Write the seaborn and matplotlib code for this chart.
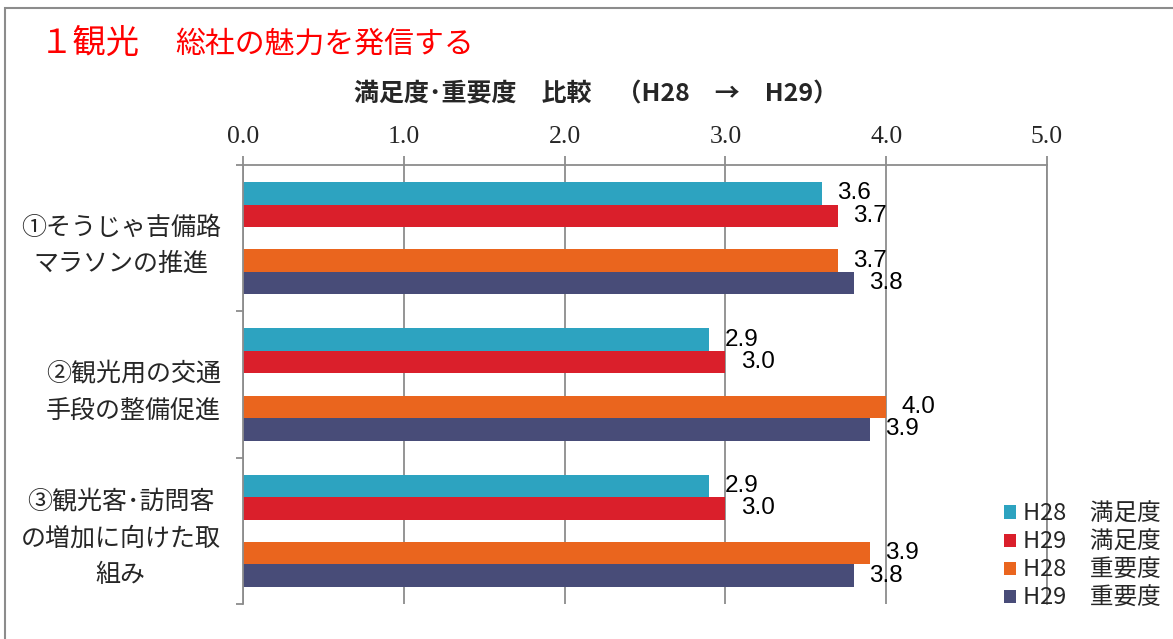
import matplotlib
matplotlib.use("Agg")
import matplotlib.pyplot as plt
from matplotlib.patches import Patch, Rectangle
import seaborn as sns
import pandas as pd

# ---- data ----
categories = ["①そうじゃ吉備路\nマラソンの推進",
              "②観光用の交通\n手段の整備促進",
              "③観光客･訪問客\nの増加に向けた取\n組み"]
series = ["H28　満足度", "H29　満足度", "H28　重要度", "H29　重要度"]
h28_satisfaction = [3.6, 2.9, 2.9]
h29_satisfaction = [3.7, 3.0, 3.0]
h28_importance = [3.7, 4.0, 3.9]
h29_importance = [3.8, 3.9, 3.8]
x_ticks = [0.0, 1.0, 2.0, 3.0, 4.0, 5.0]
colors = ["#2DA3C0", "#DA1F2B", "#EA651E", "#484C78"]

values = [h28_satisfaction, h29_satisfaction, h28_importance, h29_importance]

# a blank level between the satisfaction pair and the importance pair
spacer = " "
hue_order = series[:2] + [spacer] + series[2:]
rows = []
for name, vals in zip(series, values):
    for cat, v in zip(categories, vals):
        rows.append({"項目": cat, "系列": name, "値": v})
for cat in categories:
    rows.append({"項目": cat, "系列": spacer, "値": 0.0})
df = pd.DataFrame(rows)
palette = dict(zip(series, colors))
palette[spacer] = "#FFFFFF"

sns.set_theme(style="white")
plt.rcParams["font.family"] = ["Noto Sans CJK JP", "DejaVu Sans"]

W, H = 1173, 639
fig = plt.figure(figsize=(W / 100, H / 100), dpi=100)
ax = fig.add_axes([243 / W, 1 - 604 / H, (1047 - 243) / W, (604 - 165) / H])

sns.barplot(data=df, y="項目", x="値", hue="系列", order=categories,
            hue_order=hue_order, palette=palette, orient="h",
            width=0.766, saturation=1, legend=False, ax=ax,
            edgecolor="none", errorbar=None)

gray = "#8C8C8C"
ax.set_xlim(0, 5)
ax.set_xticks(x_ticks)
ax.set_xticklabels([f"{t:.1f}" for t in x_ticks],
                   family="Liberation Serif", fontsize=18.5)
ax.xaxis.tick_top()
ax.tick_params(axis="x", which="major", direction="out", length=6.5,
               width=1.3, color=gray, pad=6, top=True, bottom=False)
ax.grid(axis="x", color=gray, linewidth=1.3)
ax.set_axisbelow(True)
ax.set_xlabel("")
ax.set_ylabel("")

# category labels on the left, tick marks between categories
ax.set_yticks(range(len(categories)))
ax.set_yticklabels(categories, fontsize=18, linespacing=1.5)
for lbl in ax.get_yticklabels():
    lbl.set_multialignment("center")
ax.tick_params(axis="y", which="major", length=0, pad=16)
ax.set_yticks([-0.5, 0.5, 1.5, 2.5], minor=True)
ax.tick_params(axis="y", which="minor", direction="out", length=5,
               width=1.3, color=gray, left=True)
ax.set_ylim(2.5, -0.5)

for side in ["top", "left", "right"]:
    ax.spines[side].set_visible(True)
    ax.spines[side].set_color(gray)
    ax.spines[side].set_linewidth(1.3)
ax.spines["bottom"].set_visible(False)

# value labels for the four real series
real_containers = [c for c, name in zip(ax.containers, hue_order) if name != spacer]
for cont in real_containers:
    ax.bar_label(cont, fmt="%.1f", padding=11, fontsize=17.5,
                 family="Liberation Sans", color="black")

# legend
handles = [Patch(facecolor=c, edgecolor="none") for c in colors]
fig.legend(handles, series, loc="upper left",
           bbox_to_anchor=(995 / W, 1 - 493 / H), frameon=False,
           fontsize=17, handlelength=0.5, handleheight=0.5,
           handletextpad=0.3, labelspacing=0.22, borderaxespad=0)

# titles
fig.text(40 / W, 1 - 43 / H, "１観光", color="#FF0000", fontsize=24,
         va="center", ha="left")
fig.text(175 / W, 1 - 44 / H, "総社の魅力を発信する", color="#FF0000",
         fontsize=21.5, va="center", ha="left")
fig.text(596 / W, 1 - 94 / H, "満足度･重要度　比較　（H28　→　H29）",
         fontsize=18, fontweight="bold", va="center", ha="center")

# outer frame of the chart area
fig.patches.append(Rectangle((5 / W, -0.1), 1.2, 1 - 8 / H + 0.1,
                             transform=fig.transFigure, fill=False,
                             edgecolor=gray, linewidth=1.5))

fig.savefig("out.png", dpi=100)
